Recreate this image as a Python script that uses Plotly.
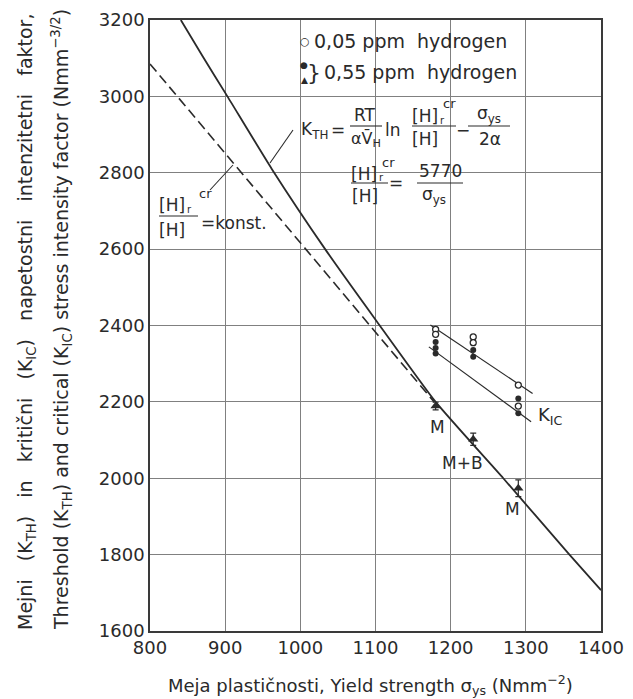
import plotly.graph_objects as go

# ---------------- data ----------------
kth_x = [841, 870, 903, 962, 1033, 1102, 1180, 1270, 1358, 1400]
kth_y = [3200, 3105, 3000, 2810, 2600, 2410, 2200, 2000, 1800, 1707]

konst_x = [800, 1178]
konst_y = [3085, 2200]

kic_upper_x = [1173, 1309]
kic_upper_y = [2401, 2222]
kic_lower_x = [1171, 1307]
kic_lower_y = [2344, 2148]

open_x = [1180, 1180, 1230, 1230, 1290, 1290]
open_y = [2390, 2377, 2370, 2355, 2244, 2189]

filled_x = [1180, 1180, 1180, 1230, 1230, 1290, 1290]
filled_y = [2357, 2341, 2327, 2336, 2318, 2209, 2170]

tri_x = [1180, 1230, 1290]
tri_y = [2189, 2102, 1974]
tri_err = [10, 16, 22]
tri_labels = ["M", "M+B", "M"]

x_ticks = [800, 900, 1000, 1100, 1200, 1300, 1400]
y_ticks = [1600, 1800, 2000, 2200, 2400, 2600, 2800, 3000, 3200]

# ---------------- geometry helpers ----------------
W, H = 633, 699
OFF = 8                      # page body margin of the html page
PL, PT, PR, PB = 150, 20, 601, 631   # plot area in page pixels
FONT = "DejaVu Sans"
INK = "#2a2a2a"


def px(x, y):
    """page pixel position -> paper coords"""
    return (x - PL) / (PR - PL), (PB - y) / (PB - PT)


fig = go.Figure()

fig.add_trace(go.Scatter(x=kth_x, y=kth_y, mode="lines",
                         line=dict(color=INK, width=1.8, shape="spline", smoothing=0.5),
                         showlegend=False, hoverinfo="skip"))
fig.add_trace(go.Scatter(x=konst_x, y=konst_y, mode="lines",
                         line=dict(color=INK, width=1.6, dash="10px,5px"),
                         showlegend=False, hoverinfo="skip"))
fig.add_trace(go.Scatter(x=kic_upper_x, y=kic_upper_y, mode="lines",
                         line=dict(color=INK, width=1.2), showlegend=False))
fig.add_trace(go.Scatter(x=kic_lower_x, y=kic_lower_y, mode="lines",
                         line=dict(color=INK, width=1.2), showlegend=False))
fig.add_trace(go.Scatter(x=open_x, y=open_y, mode="markers",
                         marker=dict(symbol="circle", size=6, color="white",
                                     line=dict(color=INK, width=1.3)),
                         showlegend=False))
fig.add_trace(go.Scatter(x=filled_x, y=filled_y, mode="markers",
                         marker=dict(symbol="circle", size=6, color=INK),
                         showlegend=False))
fig.add_trace(go.Scatter(x=tri_x, y=tri_y, mode="markers",
                         marker=dict(symbol="triangle-up", size=9, color=INK),
                         error_y=dict(type="data", array=tri_err, color=INK,
                                      thickness=1.2, width=3),
                         showlegend=False))

shapes = []
# white areas breaking the grid behind the texts (above grid, below traces)
for (x0, y0, x1, y1) in [(287, 20, 528, 150), (342, 150, 475, 217), (155, 188, 283, 242)]:
    a0, b0 = px(x0, y1)
    a1, b1 = px(x1, y0)
    shapes.append(dict(type="rect", xref="paper", yref="paper", x0=a0, y0=b0, x1=a1, y1=b1,
                       fillcolor="white", line=dict(width=0), layer="between"))


def seg(x0, y0, x1, y1, w=1.1):
    a0, b0 = px(x0, y0)
    a1, b1 = px(x1, y1)
    shapes.append(dict(type="line", xref="paper", yref="paper", x0=a0, y0=b0, x1=a1, y1=b1,
                       line=dict(color=INK, width=w)))


# fraction bars
seg(350, 126, 382, 126)
seg(412, 126, 456, 126)
seg(468, 126, 510, 126)
seg(351, 183, 388, 183)
seg(417, 183, 463, 183)
seg(159, 216, 198, 216)
# leader lines
seg(293, 130, 270, 163)
seg(210, 190, 233, 165)

ann = []


def txt(x, y, s, size=16, xanchor="center", **kw):
    a, b = px(x, y)
    ann.append(dict(x=a, y=b, xref="paper", yref="paper", text=s, showarrow=False,
                    xanchor=xanchor, yanchor="middle",
                    font=dict(family=FONT, size=size, color=INK), **kw))


# legend
txt(305, 42, "○", size=11)
txt(312, 41, "0,05 ppm  hydrogen", size=19, xanchor="left")
txt(304, 65, "●", size=9)
txt(304, 80, "▲", size=9)
txt(314, 72, "}", size=22)
txt(322, 72, "0,55 ppm  hydrogen", size=19, xanchor="left")

# formula 1
txt(314, 130, "K<sub>TH</sub>", size=17)
txt(338, 130, "=", size=17)
txt(365, 115, "RT", size=17)
txt(366, 139, "αV\u0304<sub>H</sub>", size=16)
txt(393, 130, "ln", size=17)
txt(425, 116, "[H]", size=17)
txt(442, 120, "r", size=10)
txt(449, 103, "cr", size=13)
txt(425, 139, "[H]", size=17)
txt(463, 130, "−", size=17)
txt(489, 115, "σ<sub>ys</sub>", size=17)
txt(490, 139, "2α", size=17)

# formula 2
txt(364, 174, "[H]", size=17)
txt(381, 178, "r", size=10)
txt(388, 162, "cr", size=13)
txt(365, 196, "[H]", size=17)
txt(396, 183, "=", size=17)
txt(440, 171, "5770", size=17)
txt(434, 196, "σ<sub>ys</sub>", size=17)

# konst label
txt(172, 205, "[H]", size=17)
txt(189, 209, "r", size=10)
txt(205, 193, "cr", size=13)
txt(172, 230, "[H]", size=17)
txt(199, 223, "=konst.", size=17, xanchor="left")

# point labels
for lx, ly, s in [(437, 427, tri_labels[0]), (462, 463, tri_labels[1]), (512, 509, tri_labels[2])]:
    txt(lx, ly, s, size=17)
txt(550, 416, "K<sub>IC</sub>", size=18)

# axis titles
txt(370, 685, "Meja plastičnosti, Yield strength σ<sub>ys</sub> (Nmm<sup>−2</sup>)", size=18)
txt(27, 322, "Mejni   (K<sub>TH</sub>)   in   kritični   (K<sub>IC</sub>)   napetostni   intenzitetni   faktor,",
    size=19, textangle=-90)
txt(61, 320, "Threshold (K<sub>TH</sub>) and critical (K<sub>IC</sub>) stress intensity factor (Nmm<sup>−3/2</sup>)",
    size=19, textangle=-90)

axis_common = dict(showgrid=True, gridcolor="#808080", gridwidth=1,
                   showline=True, linecolor="#3a3a3a", linewidth=1.5, mirror=True,
                   zeroline=False, ticks="",
                   tickfont=dict(family=FONT, size=18, color=INK))

fig.update_layout(
    width=W, height=H,
    margin=dict(l=PL - OFF, r=W - (PR - OFF), t=PT - OFF, b=H - (PB - OFF)),
    paper_bgcolor="white", plot_bgcolor="white",
    showlegend=False,
    shapes=shapes, annotations=ann,
    xaxis=dict(range=[800, 1400], tickvals=x_ticks, ticktext=[str(v) for v in x_ticks],
               automargin=False, **axis_common),
    yaxis=dict(range=[1600, 3200], tickvals=y_ticks, ticktext=[str(v) for v in y_ticks],
               automargin=False, **axis_common),
)

fig.write_html("out.html")
